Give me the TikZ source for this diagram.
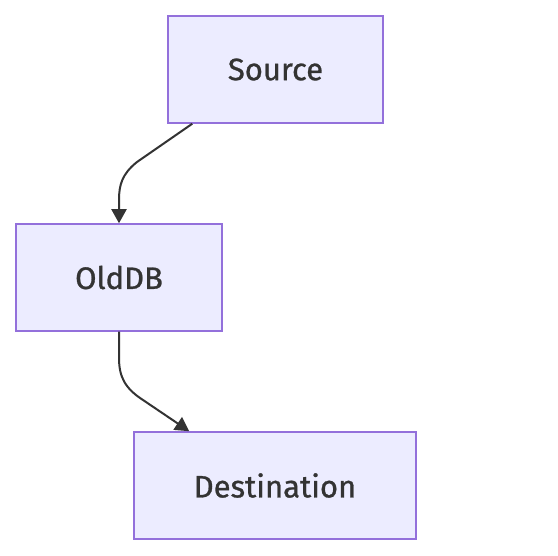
\documentclass[tikz,border=0pt]{standalone}
\usepackage{fontspec}
\setmainfont{Fira Sans}
\newfontfamily\labelfont{Fira Sans}[FakeBold=0.9]
\usetikzlibrary{arrows.meta}
\definecolor{boxfill}{HTML}{ECECFF}
\definecolor{boxline}{HTML}{9370DB}
\definecolor{ink}{HTML}{333333}
\tikzset{
    box/.style={draw=boxline, fill=boxfill, line width=1.5pt, text=ink,
        minimum height=107pt, inner sep=0pt, font=\labelfont\fontsize{31}{36}\selectfont},
    link/.style={draw=ink, line width=2pt, -{Triangle[length=14pt,width=15pt]}}
}
\begin{document}
\begin{tikzpicture}[x=1pt,y=-1pt]
        \useasboundingbox (0,0) rectangle (558,556);
        \node[box, minimum width=215pt] (source) at (275.5,69.5) {Source};
        \node[box, minimum width=206pt] (olddb) at (119,277.5) {OldDB};
        \node[box, minimum width=282pt] (dest) at (275,485.5) {Destination};
        \draw[link] ([xshift=25pt]source.south west) -- (137,162)
            .. controls (122,174) and (119,185) .. (119,200) -- (olddb.north);
        \draw[link] (olddb.south) -- (119,358)
            .. controls (119,378) and (126,389) .. (143,400) -- ([xshift=56pt]dest.north west);
    \end{tikzpicture}
\end{document}
